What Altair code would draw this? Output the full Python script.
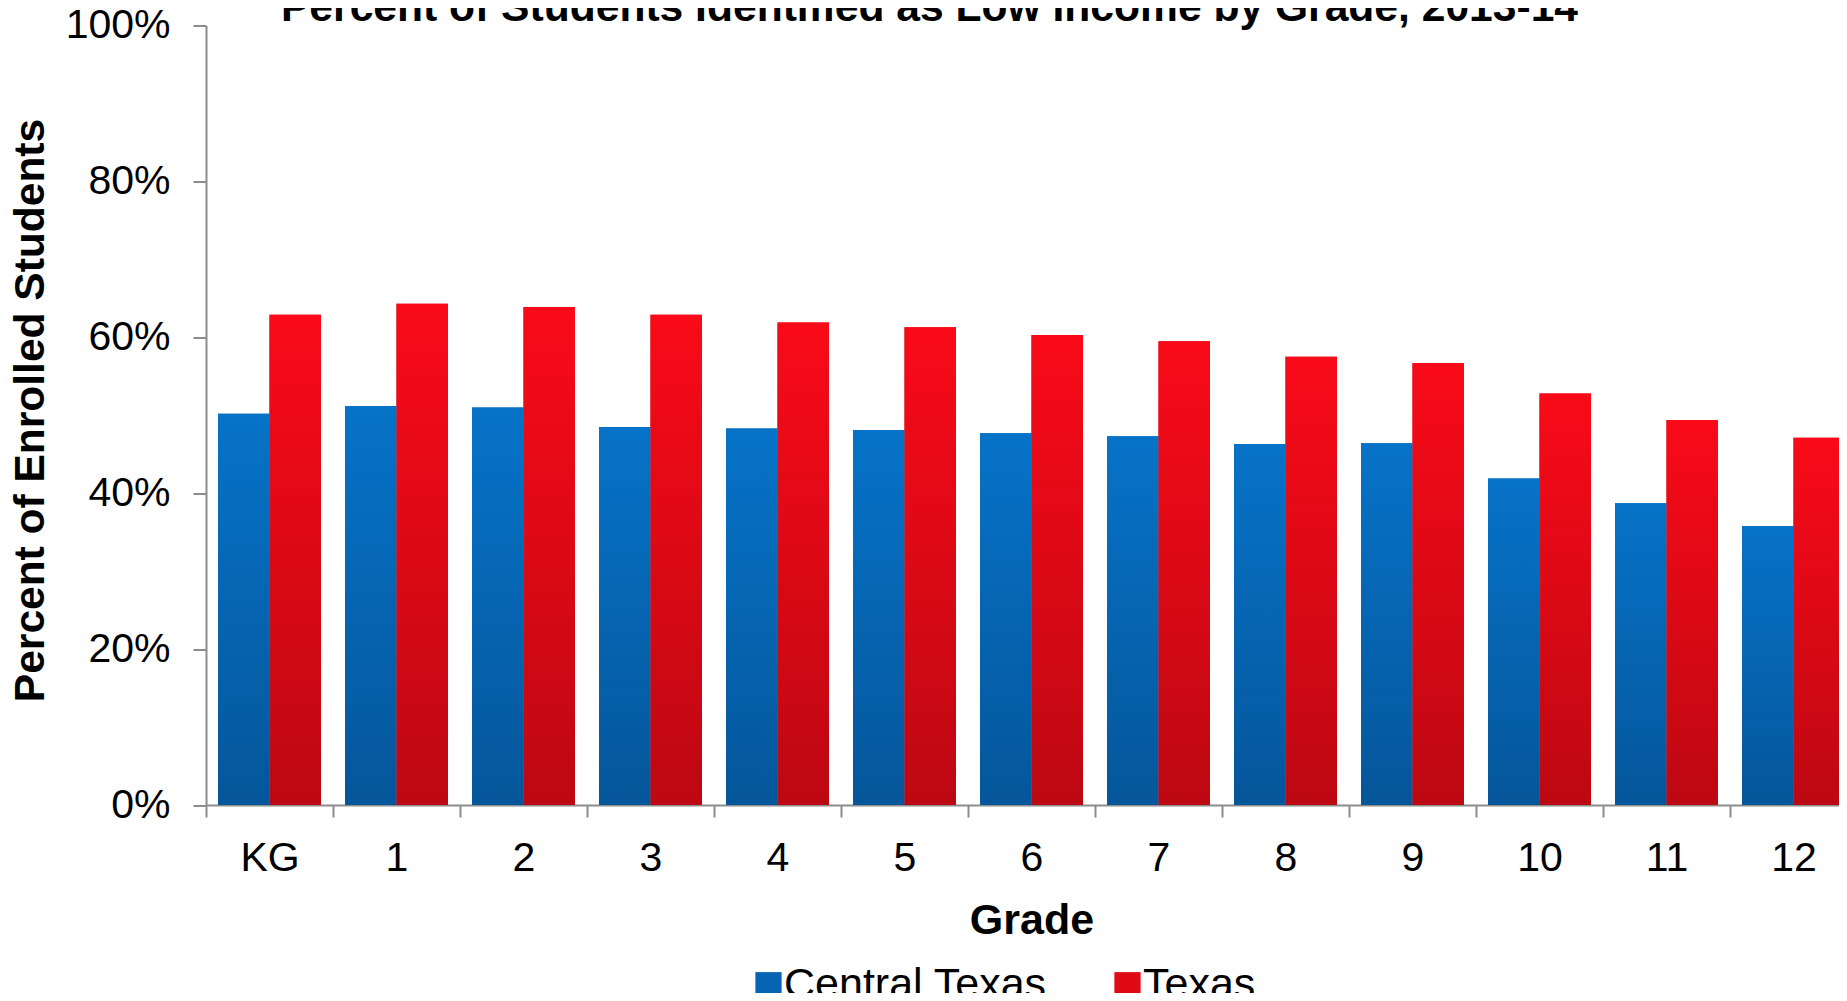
import altair as alt
import pandas as pd

grades = ["KG", "1", "2", "3", "4", "5", "6", "7", "8", "9", "10", "11", "12"]
central_texas = [50.2, 51.2, 51.0, 48.5, 48.3, 48.1, 47.7, 47.3, 46.3, 46.4, 41.9, 38.7, 35.8]
texas = [62.9, 64.3, 63.9, 62.9, 61.9, 61.3, 60.3, 59.5, 57.5, 56.7, 52.8, 49.4, 47.1]
series_names = ["Central Texas", "Texas"]
series_colors = ["#0664B2", "#E00A15"]

rows = []
for g, c, t in zip(grades, central_texas, texas):
    rows.append({"Grade": g, "Series": "Central Texas", "Value": c / 100})
    rows.append({"Grade": g, "Series": "Texas", "Value": t / 100})
df = pd.DataFrame(rows)

blue_grad = alt.LinearGradient(
    gradient="linear", x1=0, y1=0, x2=0, y2=1,
    stops=[alt.GradientStop(offset=0, color="#0673C8"),
           alt.GradientStop(offset=1, color="#05569A")])
red_grad = alt.LinearGradient(
    gradient="linear", x1=0, y1=0, x2=0, y2=1,
    stops=[alt.GradientStop(offset=0, color="#F90A18"),
           alt.GradientStop(offset=1, color="#BC0812")])

FONT = "Liberation Sans"
W = 1651

x_enc = alt.X(
    "Grade:N", sort=grades,
    scale=alt.Scale(paddingInner=0, paddingOuter=0),
    axis=alt.Axis(
        title="Grade", tickBand="extent", labelAngle=0,
        labelFont=FONT, labelFontSize=41, labelColor="#000000",
        labelBaseline="alphabetic", labelPadding=53,
        domainColor="#8C8C8C", domainWidth=2, tickColor="#8C8C8C", tickWidth=2,
        tickSize=12, titleFont=FONT, titleFontSize=43, titleFontWeight="bold",
        titleColor="#000000", titleBaseline="alphabetic", titleY=128,
        titleX=825.5, titleAlign="center",
    ),
)
y_enc = alt.Y(
    "Value:Q",
    scale=alt.Scale(domain=[0, 1], nice=False),
    axis=alt.Axis(
        title="Percent of Enrolled Students", format=".0%", values=[0, 0.2, 0.4, 0.6, 0.8, 1.0],
        grid=False, labelFont=FONT, labelFontSize=41, labelColor="#000000",
        labelPadding=23, tickSize=13, domainColor="#8C8C8C", domainWidth=2,
        tickColor="#8C8C8C", tickWidth=2,
        titleFont=FONT, titleFontSize=42.5, titleFontWeight="bold", titleColor="#000000",
        titleAngle=-90, titleBaseline="alphabetic", titleX=-163, titleY=384.5,
        titleAlign="center",
    ),
)
xoff = alt.XOffset("Series:N", sort=series_names,
                   scale=alt.Scale(paddingInner=0, paddingOuter=0.233))

base_bars = alt.Chart(df).mark_bar().encode(
    x=x_enc, y=y_enc, xOffset=xoff,
    color=alt.Color(
        "Series:N", sort=series_names,
        scale=alt.Scale(domain=series_names, range=series_colors),
        legend=alt.Legend(
            title=None, orient="none", direction="horizontal", columns=2,
            legendX=541, legendY=938, symbolType="square", symbolSize=690,
            symbolStrokeWidth=0, labelFont=FONT, labelFontSize=43, labelLimit=0,
            labelColor="#000000", labelOffset={"expr": "-6"}, columnPadding=59, padding=0,
            labelBaseline="middle",
        ),
    ),
)

grad_bars = alt.Chart(df).mark_bar().encode(
    x=alt.X("Grade:N", sort=grades),
    y=alt.Y("Value:Q"),
    xOffset=alt.XOffset("Series:N", sort=series_names),
    color=alt.condition(alt.datum.Series == "Texas", alt.value(red_grad), alt.value(blue_grad)),
)

chart = alt.layer(base_bars, grad_bars).properties(
    width=W, height=779.5,
    title=alt.TitleParams(
        "Percent of Students Identified as Low Income by Grade, 2013-14",
        font=FONT, fontSize=42.6, fontWeight="bold", color="#000000",
        anchor="middle", frame="group", baseline="alphabetic", dx=-102, offset=-59,
    ),
    autosize=alt.AutoSizeParams(type="none"),
    padding={"left": 198, "top": 17.5, "right": -18, "bottom": 188},
).configure_view(stroke=None)

chart.save("out.html", embed_options={"renderer": "svg", "actions": False})
